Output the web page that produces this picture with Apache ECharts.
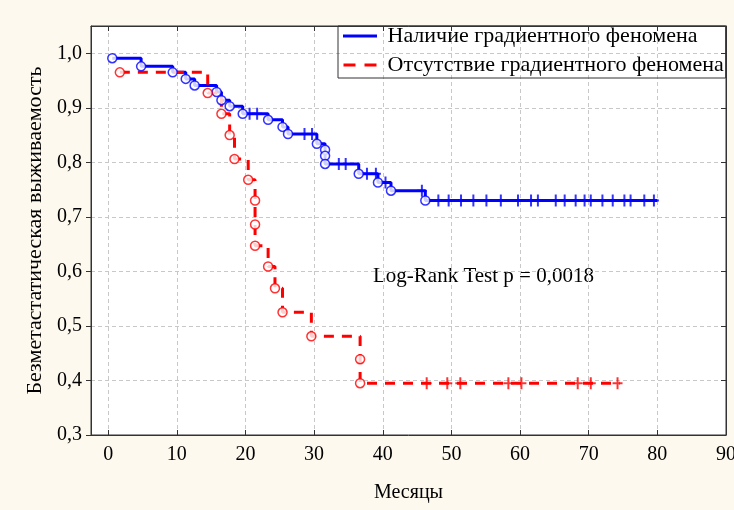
<!DOCTYPE html>
<html>
<head>
<meta charset="utf-8">
<script src="https://cdn.jsdelivr.net/npm/echarts@6/dist/echarts.min.js"></script>
<style>
html, body { margin: 0; padding: 0; background: #fdf9ee; }
#main { width: 734px; height: 510px; }
</style>
</head>
<body>
<div id="main"></div>
<script>
// Наличие градиентного феномена: моменты событий (мес.) и выживаемость после них
var blueTimes = [0.6, 4.8, 9.4, 11.3, 12.6, 15.8, 16.5, 17.7, 19.6, 23.3, 25.4, 26.2, 30.4, 31.6, 31.6, 31.6, 36.5, 39.3, 41.2, 46.2];
var blueSurv  = [0.991, 0.976, 0.965, 0.953, 0.941, 0.929, 0.914, 0.903, 0.889, 0.878, 0.865, 0.852, 0.834, 0.823, 0.812, 0.797, 0.779, 0.763, 0.748, 0.730];
var blueCensored = [20.6, 21.7, 28.6, 29.7, 33.6, 34.6, 37.7, 39.0, 40.4, 45.7,
  48.1, 49.6, 51.4, 53.2, 55.1, 57.2, 59.7, 61.6, 62.6, 65.2, 66.5, 68.1, 69.4, 70.3, 72.0, 73.5, 75.2, 76.1, 78.1, 79.5];
var blueEnd = 80;

// Отсутствие градиентного феномена
var redTimes = [1.7, 14.5, 16.5, 17.7, 18.4, 20.4, 21.4, 21.4, 21.4, 23.3, 24.3, 25.4, 29.6, 36.7, 36.7];
var redSurv  = [0.965, 0.927, 0.889, 0.850, 0.806, 0.768, 0.730, 0.686, 0.647, 0.609, 0.569, 0.525, 0.481, 0.439, 0.395];
var redCensored = [46.4, 49.4, 51.3, 58.3, 60.2, 68.4, 70.3, 74.2];
var redEnd = 74.5;

var blueName = 'Наличие градиентного феномена';
var redName = 'Отсутствие градиентного феномена';
var FONT = '"Liberation Serif", "Times New Roman", serif';

function stepData(times, surv, end) {
  var d = [];
  for (var i = 0; i < times.length; i++) d.push([times[i], surv[i]]);
  d.push([end, surv[surv.length - 1]]);
  return d;
}
function pointData(times, surv) {
  return times.map(function (t, i) { return [t, surv[i]]; });
}
// уровень кривой в момент цензурирования
function censData(times, surv, cens) {
  return cens.map(function (c) {
    var s = surv[0];
    for (var i = 0; i < times.length; i++) if (times[i] <= c) s = surv[i];
    return [c, s];
  });
}

var plus = 'path://M4,0H6V5H10V7H6V12H4V7H0V5H4Z';

var myChart = echarts.init(document.getElementById('main'));
var option = {
  animation: false,
  backgroundColor: '#fdf9ee',
  grid: {
    left: 91, right: 8, top: 26, bottom: 75,
    outerBoundsMode: 'none',
    show: true, backgroundColor: '#fff', borderColor: '#333', borderWidth: 1
  },
  legend: {
    data: [
      { name: blueName, icon: 'path://M0,0H34V3H0Z' },
      { name: redName, icon: 'path://M0,0H12V3H0ZM21,0H33V3H21Z' }
    ],
    orient: 'vertical',
    left: 338, top: 26,
    itemWidth: 34, itemHeight: 3, itemGap: 7,
    padding: [-1, 2, 2, 5],
    borderColor: '#333', borderWidth: 1,
    formatter: function (n) { return ' ' + n; },
    textStyle: { fontFamily: FONT, fontSize: 22, color: '#000' }
  },
  graphic: [{
    type: 'text', left: 373, top: 266,
    style: { text: 'Log-Rank Test p = 0,0018', font: '21px ' + FONT, fill: '#000' }
  }],
  xAxis: [{
    type: 'value', min: -2.5, max: 90, splitNumber: 9,
    name: 'Месяцы', nameLocation: 'middle', nameGap: 48,
    nameTextStyle: { fontFamily: FONT, fontSize: 20, color: '#000' },
    axisLine: { onZero: false, lineStyle: { color: '#333' } },
    axisTick: { inside: true, length: 5, lineStyle: { color: '#333' } },
    axisLabel: { showMinLabel: false, margin: 10, fontFamily: FONT, fontSize: 20, color: '#000' },
    splitLine: { show: true, lineStyle: { color: '#c8c8c8', type: [4, 3] } }
  }, {
    type: 'value', position: 'top', min: -2.5, max: 90, splitNumber: 9,
    axisLine: { show: true, onZero: false, lineStyle: { color: '#333' } },
    axisTick: { show: true, inside: true, length: 5, lineStyle: { color: '#333' } },
    axisLabel: { show: false }, splitLine: { show: false }
  }],
  yAxis: [{
    type: 'value', min: 0.3, max: 1.05, interval: 0.1,
    name: 'Безметастатическая выживаемость', nameLocation: 'middle', nameGap: 45,
    nameTextStyle: { fontFamily: FONT, fontSize: 22, color: '#000' },
    axisLine: { show: true, onZero: false, lineStyle: { color: '#333' } },
    axisTick: { show: true, length: 5, lineStyle: { color: '#333' } },
    axisLabel: {
      showMaxLabel: false, margin: 9, fontFamily: FONT, fontSize: 20, color: '#000',
      formatter: function (v) { return v.toFixed(1).replace('.', ','); }
    },
    splitLine: { show: true, lineStyle: { color: '#c8c8c8', type: [4, 3] } }
  }, {
    type: 'value', position: 'right', min: 0.3, max: 1.05, interval: 0.1,
    axisLine: { show: true, onZero: false, lineStyle: { color: '#333' } },
    axisTick: { show: true, inside: true, length: 5, lineStyle: { color: '#333' } },
    axisLabel: { show: false }, splitLine: { show: false }
  }],
  series: [
    {
      name: blueName, type: 'line', step: 'end', symbol: 'none',
      data: stepData(blueTimes, blueSurv, blueEnd),
      itemStyle: { color: '#0000ff' },
      lineStyle: { color: '#0000ff', width: 3 }
    },
    {
      name: redName, type: 'line', step: 'end', symbol: 'none',
      data: stepData(redTimes, redSurv, redEnd),
      itemStyle: { color: '#ff0000' },
      lineStyle: { color: '#ff0000', width: 3, type: [10, 8] }
    },
    {
      name: 'blueEvents', type: 'scatter', symbol: 'circle', symbolSize: 9, z: 5,
      data: pointData(blueTimes, blueSurv),
      itemStyle: { color: '#fff', borderColor: '#0000ff', borderWidth: 1.5 }
    },
    {
      name: 'redEvents', type: 'scatter', symbol: 'circle', symbolSize: 9, z: 5,
      data: pointData(redTimes, redSurv),
      itemStyle: { color: '#fff', borderColor: '#ff0000', borderWidth: 1.5 }
    },
    {
      name: 'blueCens', type: 'scatter', symbol: plus, symbolSize: [10, 12], z: 4,
      data: censData(blueTimes, blueSurv, blueCensored),
      itemStyle: { color: '#0000ff' }
    },
    {
      name: 'redCens', type: 'scatter', symbol: plus, symbolSize: [10, 12], z: 4,
      data: censData(redTimes, redSurv, redCensored),
      itemStyle: { color: '#ff0000' }
    }
  ]
};
myChart.setOption(option);
</script>
</body>
</html>
